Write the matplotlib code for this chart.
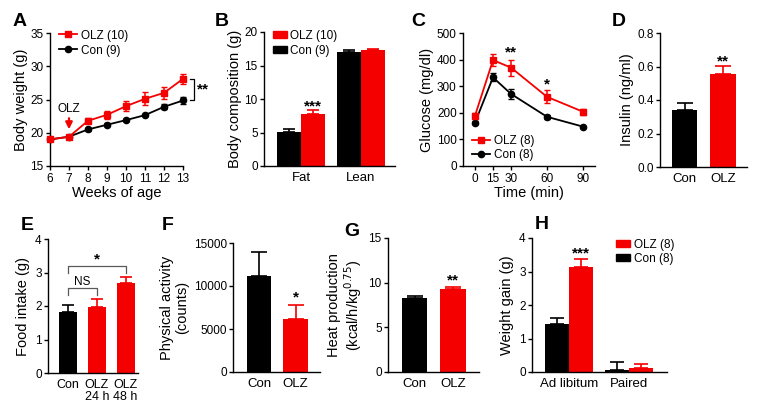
import matplotlib.pyplot as plt
from matplotlib.patches import Patch
from matplotlib.lines import Line2D

plt.rcParams['font.family'] = ['Liberation Sans', 'DejaVu Sans']
plt.rcParams['font.size'] = 8.5
plt.rcParams['axes.linewidth'] = 1.0
plt.rcParams['xtick.major.size'] = 3
plt.rcParams['ytick.major.size'] = 3
plt.rcParams['xtick.major.width'] = 1.0
plt.rcParams['ytick.major.width'] = 1.0
plt.rcParams['xtick.major.pad'] = 2
plt.rcParams['ytick.major.pad'] = 1.5

RED = '#f50000'
BLACK = '#000000'
LABEL_FS = 10.5

# A: body weight over weeks
weeks = [6, 7, 8, 9, 10, 11, 12, 13]
bw_olz = [19.0, 19.4, 21.8, 22.7, 24.0, 25.1, 26.0, 28.1]
bw_olz_err = [0.3, 0.3, 0.4, 0.6, 0.7, 1.0, 0.9, 0.8]
bw_con = [19.0, 19.4, 20.5, 21.2, 21.9, 22.65, 23.9, 24.85]
bw_con_err = [0.2, 0.2, 0.2, 0.2, 0.2, 0.2, 0.4, 0.6]

# B: body composition
comp_cats = ['Fat', 'Lean']
comp_olz = [7.7, 17.25]
comp_olz_err = [0.7, 0.2]
comp_con = [5.1, 17.0]
comp_con_err = [0.4, 0.3]

# C: glucose tolerance
gtt_time = [0, 15, 30, 60, 90]
gtt_olz = [189, 398, 370, 260, 204]
gtt_olz_err = [10, 22, 30, 25, 12]
gtt_con = [163, 333, 271, 185, 148]
gtt_con_err = [6, 15, 20, 8, 4]

# D: insulin
ins_cats = ['Con', 'OLZ']
ins_vals = [0.342, 0.555]
ins_err = [0.038, 0.05]

# E: food intake
food_cats = ['Con', 'OLZ\n24 h', 'OLZ\n48 h']
food_vals = [1.82, 1.98, 2.68]
food_err = [0.22, 0.22, 0.2]

# F: physical activity
act_cats = ['Con', 'OLZ']
act_vals = [11200, 6150]
act_err = [2700, 1650]

# G: heat production
heat_cats = ['Con', 'OLZ']
heat_vals = [8.25, 9.25]
heat_err = [0.25, 0.3]

# H: weight gain
gain_cats = ['Ad libitum', 'Paired']
gain_olz = [3.12, 0.13]
gain_olz_err = [0.25, 0.12]
gain_con = [1.42, 0.05]
gain_con_err = [0.2, 0.25]

W, H = 770, 408
fig = plt.figure(figsize=(W / 100, H / 100), dpi=100)


def add_ax(l, r, t, b):
    ax = fig.add_axes([l / W, 1 - b / H, (r - l) / W, (b - t) / H])
    ax.spines['top'].set_visible(False)
    ax.spines['right'].set_visible(False)
    return ax


def up_err(ax, x, y, e, color, cap):
    ax.errorbar(x, y, yerr=[[0] * len(e), e], fmt='none', ecolor=color,
                elinewidth=1.2, capsize=cap, capthick=1.2, zorder=1)


def letter(x, y, s):
    fig.text(x / W, 1 - y / H, s, fontsize=14, fontweight='bold', va='center', ha='left')


def line_handles(n_olz, n_con):
    h = [Line2D([], [], color=RED, marker='s', ms=5, lw=1.3),
         Line2D([], [], color=BLACK, marker='o', ms=4.5, lw=1.3)]
    return h, [n_olz, n_con]


# ---- A ----
ax = add_ax(50, 183, 33, 166)
ax.errorbar(weeks, bw_olz, yerr=bw_olz_err, color=RED, marker='s', ms=5, lw=1.3,
            capsize=2.5, elinewidth=1.1, clip_on=False, zorder=3)
ax.errorbar(weeks, bw_con, yerr=bw_con_err, color=BLACK, marker='o', ms=4.5, lw=1.3,
            capsize=2.5, elinewidth=1.1, clip_on=False, zorder=2)
ax.set_xlim(6, 13)
ax.set_ylim(15, 35)
ax.set_xticks(weeks)
ax.set_yticks([15, 20, 25, 30, 35])
ax.set_xlabel('Weeks of age', fontsize=LABEL_FS, labelpad=1)
ax.set_ylabel('Body weight (g)', fontsize=LABEL_FS, labelpad=2)
h, l = line_handles('OLZ (10)', 'Con (9)')
ax.legend(h, l, loc='upper left', bbox_to_anchor=(0.02, 1.07), frameon=False,
          handlelength=1.6, handletextpad=0.3, labelspacing=0.25, borderpad=0, fontsize=8.5)
ax.plot([13.35, 13.6, 13.6, 13.35], [bw_olz[-1], bw_olz[-1], bw_con[-1], bw_con[-1]],
        color=BLACK, lw=0.9, clip_on=False)
ax.text(14.05, (bw_olz[-1] + bw_con[-1]) / 2, '**', fontsize=11, fontweight='bold',
        ha='center', va='center')
ax.text(7, 23.6, 'OLZ', ha='center', va='center', fontsize=8.5)
ax.annotate('', xy=(7, 20.1), xytext=(7, 22.6),
            arrowprops=dict(arrowstyle='-|>', color=RED, lw=1.6, mutation_scale=10))
letter(13, 22, 'A')

# ---- B ----
ax = add_ax(264, 395, 32, 166)
xs = list(range(len(comp_cats)))
bw = 0.4
ax.bar([x - bw / 2 for x in xs], comp_con, bw, color=BLACK, zorder=2)
ax.bar([x + bw / 2 for x in xs], comp_olz, bw, color=RED, zorder=2)
up_err(ax, [x - bw / 2 for x in xs], comp_con, comp_con_err, BLACK, 4)
up_err(ax, [x + bw / 2 for x in xs], comp_olz, comp_olz_err, RED, 4)
ax.set_xlim(-0.617, 1.567)
ax.set_ylim(0, 20)
ax.set_yticks([0, 5, 10, 15, 20])
ax.set_xticks(xs)
ax.set_xticklabels(comp_cats, fontsize=9.5)
ax.tick_params(axis='x', length=0, pad=4)
ax.set_ylabel('Body composition (g)', fontsize=LABEL_FS, labelpad=2)
ax.text(xs[0] + bw / 2, 8.9, '***', fontsize=11, fontweight='bold', ha='center', va='center')
ax.legend([Patch(color=RED), Patch(color=BLACK)], ['OLZ (10)', 'Con (9)'],
          loc='upper left', bbox_to_anchor=(0.02, 1.06), frameon=False,
          handlelength=1.2, handleheight=0.6, handletextpad=0.3, labelspacing=0.25,
          borderpad=0, fontsize=8.5)
letter(215, 22, 'B')

# ---- C ----
ax = add_ax(463, 595, 33, 166)
ax.errorbar(gtt_time, gtt_olz, yerr=gtt_olz_err, color=RED, marker='s', ms=5, lw=1.3,
            capsize=2.5, elinewidth=1.1, zorder=3)
ax.errorbar(gtt_time, gtt_con, yerr=gtt_con_err, color=BLACK, marker='o', ms=4.5, lw=1.3,
            capsize=2.5, elinewidth=1.1, zorder=2)
ax.set_xlim(-10, 100)
ax.set_ylim(0, 500)
ax.set_xticks(gtt_time)
ax.set_yticks([0, 100, 200, 300, 400, 500])
ax.set_xlabel('Time (min)', fontsize=LABEL_FS, labelpad=1)
ax.set_ylabel('Glucose (mg/dl)', fontsize=LABEL_FS, labelpad=2)
ax.text(30, 428, '**', fontsize=11, fontweight='bold', ha='center', va='center')
ax.text(60, 305, '*', fontsize=11, fontweight='bold', ha='center', va='center')
h, l = line_handles('OLZ (8)', 'Con (8)')
ax.legend(h, l, loc='lower left', bbox_to_anchor=(0.02, -0.01), frameon=False,
          handlelength=1.6, handletextpad=0.3, labelspacing=0.2, borderpad=0, fontsize=8.5)
letter(411, 22, 'C')

# ---- D ----
ax = add_ax(660, 747, 33, 167)
xs = list(range(len(ins_cats)))
ax.bar(xs, ins_vals, 0.66, color=[BLACK, RED], zorder=2)
for x, v, e, c in zip(xs, ins_vals, ins_err, [BLACK, RED]):
    up_err(ax, [x], [v], [e], c, 6)
ax.set_xlim(-0.64, 1.62)
ax.set_ylim(0, 0.8)
ax.set_yticks([0.0, 0.2, 0.4, 0.6, 0.8])
ax.set_yticklabels(['0.0', '0.2', '0.4', '0.6', '0.8'])
ax.set_xticks(xs)
ax.set_xticklabels(ins_cats, fontsize=9.5)
ax.tick_params(axis='x', length=0, pad=4)
ax.set_ylabel('Insulin (ng/ml)', fontsize=LABEL_FS, labelpad=2)
ax.text(1, 0.632, '**', fontsize=11, fontweight='bold', ha='center', va='center')
letter(612, 22, 'D')

# ---- E ----
ax = add_ax(48, 138, 239, 373)
xs = list(range(len(food_cats)))
ax.bar(xs, food_vals, 0.63, color=[BLACK, RED, RED], zorder=2)
for x, v, e, c in zip(xs, food_vals, food_err, [BLACK, RED, RED]):
    up_err(ax, [x], [v], [e], c, 4.5)
ax.set_xlim(-0.7, 2.43)
ax.set_ylim(0, 4)
ax.set_yticks([0, 1, 2, 3, 4])
ax.set_xticks(xs)
ax.set_xticklabels(food_cats, fontsize=9, linespacing=1.1, va='top')
ax.tick_params(axis='x', length=0, pad=4)
ax.set_ylabel('Food intake (g)', fontsize=LABEL_FS, labelpad=4)
ax.plot([0, 0, 1, 1], [2.32, 2.55, 2.55, 2.32], color='0.35', lw=0.9)
ax.text(0.5, 2.72, 'NS', fontsize=8.5, ha='center', va='center')
ax.plot([0, 0, 2, 2], [3.0, 3.18, 3.18, 3.0], color='0.35', lw=0.9)
ax.text(1, 3.38, '*', fontsize=11, fontweight='bold', ha='center', va='center')
letter(21, 226, 'E')

# ---- F ----
ax = add_ax(233, 320, 243, 372)
xs = list(range(len(act_cats)))
ax.bar(xs, act_vals, 0.67, color=[BLACK, RED], zorder=2)
for x, v, e, c in zip(xs, act_vals, act_err, [BLACK, RED]):
    up_err(ax, [x], [v], [e], c, 6)
ax.set_xlim(-0.71, 1.67)
ax.set_ylim(0, 15000)
ax.set_yticks([0, 5000, 10000, 15000])
ax.set_xticks(xs)
ax.set_xticklabels(act_cats, fontsize=9.5)
ax.tick_params(axis='x', length=0, pad=4)
ax.set_ylabel('Physical activity\n(counts)', fontsize=LABEL_FS, labelpad=3, linespacing=1.1)
ax.text(1, 8700, '*', fontsize=11, fontweight='bold', ha='center', va='center')
letter(162, 226, 'F')

# ---- G ----
ax = add_ax(388, 479, 238, 372)
xs = list(range(len(heat_cats)))
ax.bar(xs, heat_vals, 0.66, color=[BLACK, RED], zorder=2)
for x, v, e, c in zip(xs, heat_vals, heat_err, [BLACK, RED]):
    up_err(ax, [x], [v], [e], c, 6)
ax.set_xlim(-0.69, 1.675)
ax.set_ylim(0, 15)
ax.set_yticks([0, 5, 10, 15])
ax.set_xticks(xs)
ax.set_xticklabels(heat_cats, fontsize=9.5)
ax.tick_params(axis='x', length=0, pad=4)
ax.set_ylabel('Heat production\n(kcal/h/kg$^{0.75}$)', fontsize=LABEL_FS, labelpad=3,
              linespacing=1.1)
ax.text(1, 10.3, '**', fontsize=11, fontweight='bold', ha='center', va='center')
letter(344, 231, 'G')

# ---- H ----
ax = add_ax(532, 667, 238, 372)
xs = list(range(len(gain_cats)))
bw = 0.4
ax.bar([x - bw / 2 for x in xs], gain_con, bw, color=BLACK, zorder=2)
ax.bar([x + bw / 2 for x in xs], gain_olz, bw, color=RED, zorder=2)
up_err(ax, [x - bw / 2 for x in xs], gain_con, gain_con_err, BLACK, 5)
up_err(ax, [x + bw / 2 for x in xs], gain_olz, gain_olz_err, RED, 5)
ax.set_xlim(-0.617, 1.63)
ax.set_ylim(0, 4)
ax.set_yticks([0, 1, 2, 3, 4])
ax.set_xticks(xs)
ax.set_xticklabels(gain_cats, fontsize=9.5)
ax.tick_params(axis='x', length=0, pad=4)
ax.set_ylabel('Weight gain (g)', fontsize=LABEL_FS, labelpad=4)
ax.text(xs[0] + bw / 2, 3.55, '***', fontsize=11, fontweight='bold', ha='center', va='center')
ax.legend([Patch(color=RED), Patch(color=BLACK)], ['OLZ (8)', 'Con (8)'],
          loc='upper left', bbox_to_anchor=(0.58, 1.04), frameon=False,
          handlelength=1.2, handleheight=0.6, handletextpad=0.3, labelspacing=0.2,
          borderpad=0, fontsize=8.5)
letter(535, 224, 'H')

fig.savefig('out.png', dpi=100)
